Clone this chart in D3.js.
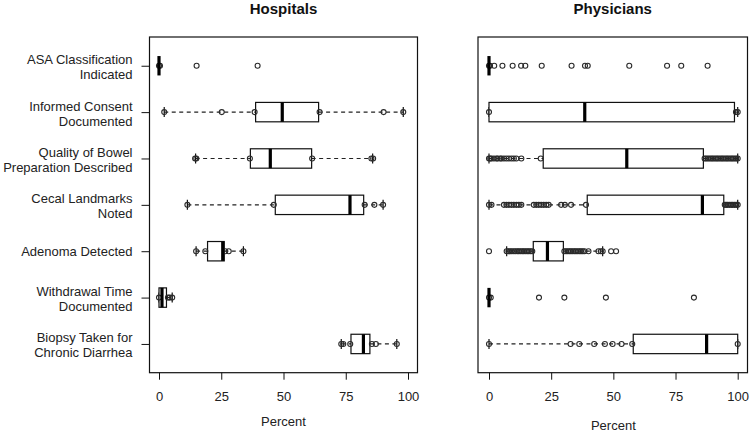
<!DOCTYPE html>
<html>
<head>
<meta charset="utf-8">
<script src="https://cdn.jsdelivr.net/npm/d3@7"></script>
<style>
  html, body { margin: 0; padding: 0; background: #fff; }
  svg { display: block; }
  text { font-family: "Liberation Sans", Arial, sans-serif; fill: #222; }
</style>
</head>
<body>
<svg id="chart" width="750" height="434"></svg>
<script>
// ---------- data ----------
const categories = [
  "ASA Classification\nIndicated",
  "Informed Consent\nDocumented",
  "Quality of Bowel\nPreparation Described",
  "Cecal Landmarks\nNoted",
  "Adenoma Detected",
  "Withdrawal Time\nDocumented",
  "Biopsy Taken for\nChronic Diarrhea"
];
const panelTitles = ["Hospitals", "Physicians"];
const tickValues = [0, 25, 50, 75, 100];
const axisTitle = "Percent";

// Hospitals
const hospLow  = [0,   2.1, 14.7, 11.4, 14.9, 0,   73.2];
const hospQ1   = [0,  38.8, 36.7, 46.7, 19.5, 0,   77.1];
const hospMed  = [0,  49.5, 44.7, 76.7, 25.6, 1.2, 82.1];
const hospQ3   = [0,  64.1, 61.3, 82.2, 26.2, 3.0, 84.7];
const hospHigh = [0,  98.1, 85.8, 90.0, 33.9, 5.3, 95.5];
const hospPoints = [
  [0, 0.4, 15.1, 39.6],
  [2.1, 25.2, 38.4, 64.5, 90.2, 98.1],
  [14.5, 15.0, 36.5, 61.5, 85.3, 86.0],
  [11.4, 46.1, 82.6, 86.5, 90.0],
  [14.9, 18.6, 26.6, 28.0, 33.9],
  [0, 3.6, 4.3, 5.3],
  [73.2, 74.0, 76.8, 85.5, 87.1, 95.5]
];

// Physicians
const physLow  = [0, 0,    0,    0,    7.1, 0, 0];
const physQ1   = [0, 0,    21.8, 39.5, 17.8, 0, 58.0];
const physMed  = [0, 38.5, 55.4, 85.8, 23.5, 0, 87.5];
const physQ3   = [0, 98.7, 86.2, 94.4, 29.9, 0, 100];
const physHigh = [0, 100,  100,  100,  45.7, 0, 100];
const physPoints = [
  [0, 0.4, 2.1, 5.4, 9.5, 12.9, 14.6, 21.2, 33.2, 38.6, 39.7, 56.4, 71.6, 77.3, 87.9],
  [0, 99.3, 100],
  [0, 0.5, 1, 2, 3, 3.5, 4.5, 5, 6, 7, 8, 9, 10, 11, 13, 20.8,
   86.7, 87.3, 88, 88.7, 89.4, 90, 90.7, 91.4, 92, 92.7, 93.4, 94, 94.7, 95.4, 96, 96.7, 97.4, 98, 98.7, 99.4, 100],
  [0, 1, 6, 7, 8, 9, 10, 11, 12, 13, 18, 19, 20, 21, 22, 23, 24, 29, 30.5, 33, 39,
   94.8, 95.4, 96, 96.7, 97.4, 98, 98.7, 99.4, 100],
  [0, 7.1, 7.8, 8.5, 9.2, 10, 10.7, 11.4, 12, 12.7, 13.4, 14, 14.7, 15.4, 16, 16.7, 17.4,
   30.3, 31, 31.7, 32.4, 33, 33.7, 34.4, 35, 35.7, 36.4, 37, 37.7, 38.4, 40, 44, 45, 45.7, 49.1, 51.1],
  [0, 0.7, 20.1, 30.3, 47.0, 82.4],
  [0, 32.8, 36.3, 42.3, 46.6, 49.7, 53.3, 57.6, 100]
];

// ---------- drawing ----------
const svg = d3.select("#chart");
svg.append("rect").attr("width", 750).attr("height", 434).attr("fill", "#fff");

const yTop = 37, yBot = 372.7;
const y = d3.scaleLinear().domain([0.38, 7.62]).range([yTop, yBot]);
const boxHalf = 9.7, capHalf = 5;

const panels = [
  { title: panelTitles[0], left: 149.5, right: 417.5, x0: 159, x1: 408, labelY: 426,
    low: hospLow, q1: hospQ1, med: hospMed, q3: hospQ3, high: hospHigh, pts: hospPoints, yAxis: true },
  { title: panelTitles[1], left: 478, right: 747.5, x0: 489, x1: 737.7, labelY: 430,
    low: physLow, q1: physQ1, med: physMed, q3: physQ3, high: physHigh, pts: physPoints, yAxis: false }
];

panels.forEach(p => {
  const x = d3.scaleLinear().domain([0, 100]).range([p.x0, p.x1]);
  const g = svg.append("g");

  // title
  g.append("text")
    .attr("x", (p.left + p.right) / 2).attr("y", 14)
    .attr("text-anchor", "middle")
    .attr("font-size", 15).attr("font-weight", "bold")
    .style("fill", "#111")
    .text(p.title);

  // boxplots
  categories.forEach((c, i) => {
    const cy = y(i + 1);
    const row = g.append("g");
    // whiskers
    if (p.low[i] < p.q1[i]) {
      row.append("line").attr("x1", x(p.low[i])).attr("x2", x(p.q1[i]))
        .attr("y1", cy).attr("y2", cy)
        .attr("stroke", "#222").attr("stroke-width", 1.2).attr("stroke-dasharray", "4,3.5");
    }
    if (p.high[i] > p.q3[i]) {
      row.append("line").attr("x1", x(p.q3[i])).attr("x2", x(p.high[i]))
        .attr("y1", cy).attr("y2", cy)
        .attr("stroke", "#222").attr("stroke-width", 1.2).attr("stroke-dasharray", "4,3.5");
    }
    [p.low[i], p.high[i]].forEach(v => {
      row.append("line").attr("x1", x(v)).attr("x2", x(v))
        .attr("y1", cy - capHalf).attr("y2", cy + capHalf)
        .attr("stroke", "#111").attr("stroke-width", 1.2);
    });
    // box
    row.append("rect")
      .attr("x", x(p.q1[i])).attr("y", cy - boxHalf)
      .attr("width", Math.max(0, x(p.q3[i]) - x(p.q1[i])))
      .attr("height", 2 * boxHalf)
      .attr("fill", "#fff").attr("stroke", "#111").attr("stroke-width", 1.2);
    // points
    row.selectAll("circle").data(p.pts[i]).join("circle")
      .attr("cx", d => x(d)).attr("cy", cy).attr("r", 2.5)
      .attr("fill", "none").attr("stroke", "#2a2a2a").attr("stroke-width", 1.1);
    // median
    row.append("line").attr("x1", x(p.med[i])).attr("x2", x(p.med[i]))
      .attr("y1", cy - boxHalf).attr("y2", cy + boxHalf)
      .attr("stroke", "#000").attr("stroke-width", 3.2);
  });

  // frame
  g.append("rect")
    .attr("x", p.left).attr("y", yTop)
    .attr("width", p.right - p.left).attr("height", yBot - yTop)
    .attr("fill", "none").attr("stroke", "#111").attr("stroke-width", 1.2);

  // x axis
  const xa = g.append("g").attr("transform", `translate(0,${yBot})`)
    .call(d3.axisBottom(x).tickValues(tickValues).tickSize(7).tickPadding(12).tickFormat(d3.format("d")));
  xa.select(".domain").remove();
  xa.selectAll("line").attr("stroke", "#111");
  xa.selectAll("text").attr("font-size", 13).attr("font-family", "Liberation Sans, Arial, sans-serif").style("fill", "#222");

  g.append("text")
    .attr("x", (p.x0 + p.x1) / 2).attr("y", p.labelY)
    .attr("text-anchor", "middle").attr("font-size", 13)
    .text(axisTitle);

  // y axis (left panel only)
  if (p.yAxis) {
    const ya = g.append("g").attr("transform", `translate(${p.left},0)`)
      .call(d3.axisLeft(y).tickValues(d3.range(1, categories.length + 1)).tickSize(8).tickFormat(""));
    ya.select(".domain").remove();
    ya.selectAll("line").attr("stroke", "#111");
    categories.forEach((c, i) => {
      const cy = y(i + 1);
      const lines = c.split("\n");
      const t = g.append("text").attr("text-anchor", "end").attr("font-size", 13);
      if (lines.length === 1) {
        t.append("tspan").attr("x", p.left - 17).attr("y", cy + 5).text(lines[0]);
      } else {
        t.append("tspan").attr("x", p.left - 17).attr("y", cy - 1.5).text(lines[0]);
        t.append("tspan").attr("x", p.left - 17).attr("y", cy + 13.5).text(lines[1]);
      }
    });
  }
});
</script>
</body>
</html>
